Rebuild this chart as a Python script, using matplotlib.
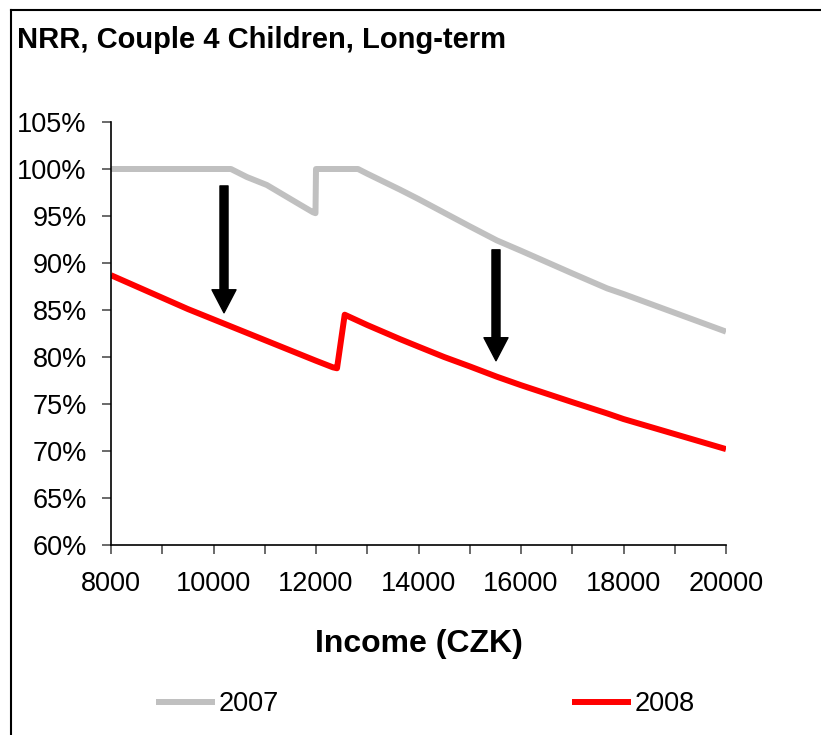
import matplotlib
matplotlib.use("Agg")
import matplotlib.pyplot as plt
from matplotlib.lines import Line2D

# data
income_2007 = [8000, 10340, 10650, 11040, 11690, 11940, 11990, 12000, 12820, 13000,
               13640, 14000, 14500, 15000, 15530, 16000, 16500, 17000, 17680,
               18000, 18500, 19000, 19500, 20000]
nrr_2007 = [100.0, 100.0, 99.15, 98.3, 96.2, 95.4, 95.3, 100.0, 100.0, 99.5,
            97.8, 96.8, 95.35, 93.9, 92.4, 91.3, 90.1, 88.9, 87.3,
            86.7, 85.7, 84.7, 83.7, 82.7]

income_2008 = [8000, 8500, 9000, 9500, 10000, 10500, 11000, 11500, 12000, 12330,
               12410, 12560, 13000, 13640, 14000, 14500, 15000, 15530, 16000,
               16500, 17000, 17680, 18000, 18500, 19000, 19500, 20000]
nrr_2008 = [88.7, 87.5, 86.3, 85.1, 84.0, 82.9, 81.8, 80.7, 79.6, 78.9,
            78.8, 84.5, 83.4, 81.9, 81.1, 80.0, 79.0, 77.9, 77.0,
            76.1, 75.2, 74.0, 73.4, 72.6, 71.8, 71.0, 70.2]

# arrows: (income, from %, to %)
arrows = [(10205, 98.2, 84.7), (15512, 91.4, 79.6)]

x_ticks = list(range(8000, 20001, 1000))
x_ticklabels = [str(t) if t % 2000 == 0 else "" for t in x_ticks]
y_ticks = list(range(60, 106, 5))
y_ticklabels = ["%d%%" % t for t in y_ticks]

plt.rcParams['font.family'] = ['Liberation Sans', 'DejaVu Sans']

W, H = 821, 735
fig = plt.figure(figsize=(W / 100, H / 100), dpi=100)
ax = fig.add_axes([111 / W, 1 - 545 / H, (726 - 111) / W, (545 - 122) / H])

ax.plot(income_2007, nrr_2007, color='#c0c0c0', lw=4.3, label='2007',
        solid_joinstyle='round', solid_capstyle='butt')
ax.plot(income_2008, nrr_2008, color='#ff0000', lw=4.3, label='2008',
        solid_joinstyle='round', solid_capstyle='butt')

for xa, y0, y1 in arrows:
    ax.annotate('', xy=(xa, y1), xytext=(xa, y0),
                arrowprops=dict(facecolor='black', edgecolor='black', width=5.8,
                                headwidth=17.3, headlength=16.6, shrink=0))

ax.set_xlim(8000, 20000)
ax.set_ylim(60, 105)
ax.set_xticks(x_ticks)
ax.set_xticklabels(x_ticklabels)
ax.set_yticks(y_ticks)
ax.set_yticklabels(y_ticklabels)

ax.spines['top'].set_visible(False)
ax.spines['right'].set_visible(False)
ax.spines['left'].set_linewidth(1.2)
ax.spines['bottom'].set_linewidth(1.2)
ax.tick_params(axis='both', direction='out', length=6.5, width=1.2,
               color='#505050', labelsize=19.5)
ax.tick_params(axis='x', pad=12.5)
ax.tick_params(axis='y', pad=11)

fig.text(17 / W, 1 - 48 / H, 'NRR, Couple 4 Children, Long-term',
         fontsize=21, fontweight='bold', va='baseline', ha='left')
fig.text(418.5 / W, 1 - 652 / H, 'Income (CZK)',
         fontsize=23, fontweight='bold', va='baseline', ha='center')

leg = ax.legend(loc='center', bbox_to_anchor=(425.5 / W, 1 - 704 / H),
                bbox_transform=fig.transFigure, ncol=2, frameon=False,
                fontsize=19.5, handlelength=2.18, handletextpad=0.15,
                columnspacing=10.8, borderpad=0)
for ln in leg.get_lines():
    ln.set_linewidth(4.3)

# chart-area border (top and left only, rest is cropped)
fig.add_artist(Line2D([11 / W, 1], [1 - 10 / H, 1 - 10 / H], color='black',
                      lw=1.5, transform=fig.transFigure))
fig.add_artist(Line2D([11 / W, 11 / W], [0, 1 - 10 / H], color='black',
                      lw=1.5, transform=fig.transFigure))

fig.savefig('out.png', dpi=100)
